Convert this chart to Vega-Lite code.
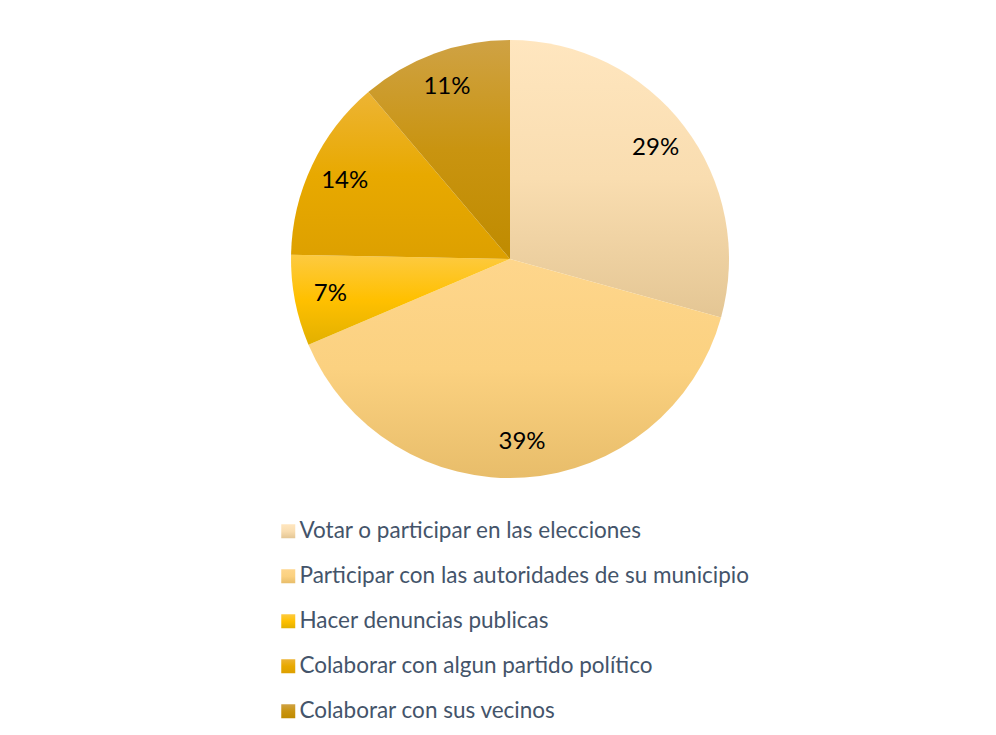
{
  "$schema": "https://vega.github.io/schema/vega-lite/v6.json",
  "width": 438,
  "height": 438,
  "autosize": {"type": "none"},
  "padding": {"left": 291, "top": 40, "right": 267, "bottom": 257},
  "background": "white",
  "config": {"view": {"stroke": null}},
  "params": [
    {
      "name": "grads",
      "value": {
        "Votar o participar en las elecciones": {"gradient": "linear", "x1": 0, "y1": 0, "x2": 0, "y2": 1, "stops": [{"offset": 0, "color": "#FFE6BF"}, {"offset": 0.5, "color": "#F9DDB0"}, {"offset": 1, "color": "#E4C694"}]},
        "Participar con las autoridades de su municipio": {"gradient": "linear", "x1": 0, "y1": 0, "x2": 0, "y2": 1, "stops": [{"offset": 0, "color": "#FED68C"}, {"offset": 0.5, "color": "#FBD180"}, {"offset": 1, "color": "#E8BD6A"}]},
        "Hacer denuncias publicas": {"gradient": "linear", "x1": 0, "y1": 0, "x2": 0, "y2": 1, "stops": [{"offset": 0, "color": "#FDCA40"}, {"offset": 0.5, "color": "#FFC000"}, {"offset": 1, "color": "#E2B000"}]},
        "Colaborar con algun partido político": {"gradient": "linear", "x1": 0, "y1": 0, "x2": 0, "y2": 1, "stops": [{"offset": 0, "color": "#EDB434"}, {"offset": 0.5, "color": "#E8A900"}, {"offset": 1, "color": "#DDA000"}]},
        "Colaborar con sus vecinos": {"gradient": "linear", "x1": 0, "y1": 0, "x2": 0, "y2": 1, "stops": [{"offset": 0, "color": "#CFA244"}, {"offset": 0.5, "color": "#C99410"}, {"offset": 1, "color": "#BF8B00"}]}
      }
    }
  ],
  "data": {
    "values": [
      {"cat": "Votar o participar en las elecciones", "valor": 29.3, "label": "29%", "n": 1},
      {"cat": "Participar con las autoridades de su municipio", "valor": 39.3, "label": "39%", "n": 2},
      {"cat": "Hacer denuncias publicas", "valor": 6.7, "label": "7%", "n": 3},
      {"cat": "Colaborar con algun partido político", "valor": 13.5, "label": "14%", "n": 4},
      {"cat": "Colaborar con sus vecinos", "valor": 11.2, "label": "11%", "n": 5}
    ]
  },
  "layer": [
    {
      "mark": {"type": "arc", "fill": {"expr": "grads[datum.cat || datum.value]"}, "strokeWidth": 0},
      "encoding": {
        "theta": {"field": "valor", "type": "quantitative", "stack": true},
        "order": {"field": "n", "type": "quantitative"},
        "stroke": {
          "field": "cat",
          "type": "nominal",
          "scale": {
            "domain": ["Votar o participar en las elecciones", "Participar con las autoridades de su municipio", "Hacer denuncias publicas", "Colaborar con algun partido político", "Colaborar con sus vecinos"],
            "range": ["#F9DDB0", "#FBD180", "#FFC000", "#E8A900", "#C99410"]
          },
          "legend": {
            "orient": "none",
            "legendX": -14,
            "legendY": 480,
            "direction": "vertical",
            "title": null,
            "symbolType": "square",
            "symbolSize": 196,
            "symbolStrokeWidth": 0,
            "labelFont": "Lato",
            "labelFontSize": 22.5,
            "labelColor": "#44546A",
            "labelOffset": 0,
            "labelLimit": 700,
            "rowPadding": 22
          }
        }
      }
    },
    {
      "mark": {"type": "text", "font": "Lato", "fontSize": 24, "color": "#000000", "radius": 183},
      "encoding": {
        "theta": {"field": "valor", "type": "quantitative", "stack": true},
        "order": {"field": "n", "type": "quantitative"},
        "text": {"field": "label", "type": "nominal"}
      }
    }
  ]
}
